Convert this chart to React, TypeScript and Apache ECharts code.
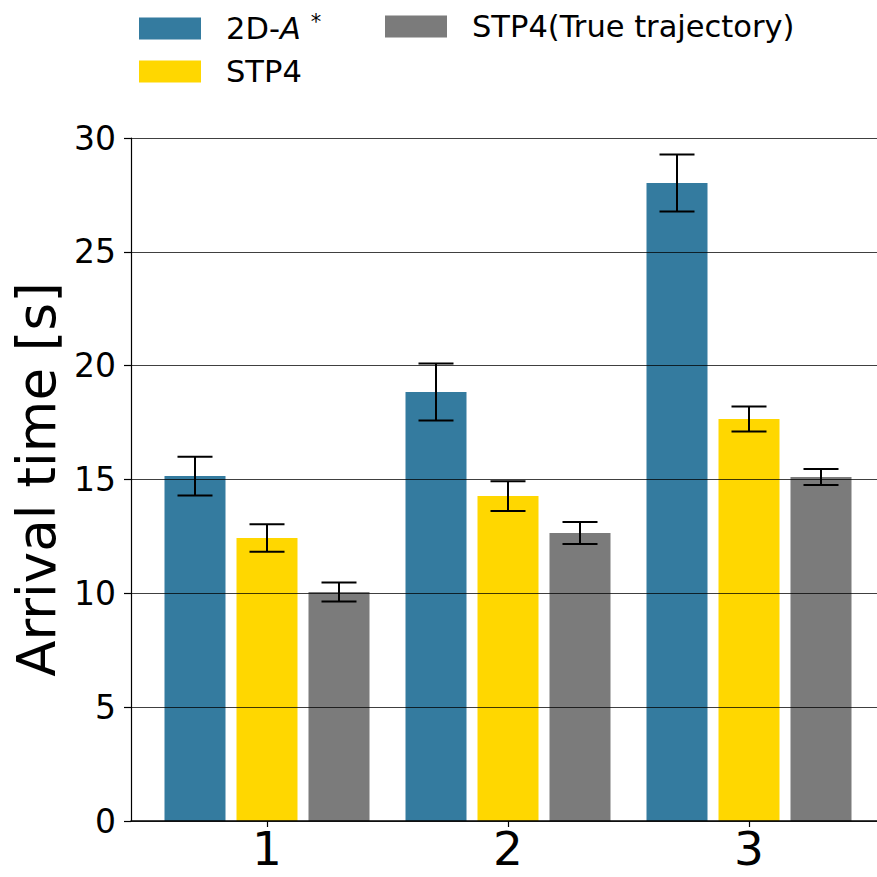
import React, { useEffect, useRef } from 'react';
import * as echarts from 'echarts';

const categories = ['1', '2', '3'];
const seriesNames = ['2D-A*', 'STP4', 'STP4(True trajectory)'];
const astarValues = [15.15, 18.84, 28.02];
const astarErrors = [0.85, 1.25, 1.25];
const stp4Values = [12.43, 14.27, 17.66];
const stp4Errors = [0.6, 0.65, 0.55];
const trueValues = [10.06, 12.65, 15.11];
const trueErrors = [0.42, 0.48, 0.35];
const yMin = 0;
const yMax = 30;
const yInterval = 5;

const colors = ['#347b9f', '#ffd700', '#7b7b7b'];
const FONT = 'DejaVu Sans';
const BAND = 241;
const X_MIN = 1 - 136 / BAND;
const X_MAX = 3 + 128 / BAND;
const BAR_W = 61 / BAND;
const OFFSETS = [-72 / BAND, 0, 72 / BAND];
const CAP = 35 / BAND;

export default function App() {
  const ref = useRef<HTMLDivElement>(null);
  useEffect(() => {
    if (!ref.current) return;
    const chart = echarts.init(ref.current, undefined, { renderer: 'svg' });
    const allValues = [astarValues, stp4Values, trueValues];
    const allErrors = [astarErrors, stp4Errors, trueErrors];

    const barSeries = seriesNames.map((name, k) => ({
      name,
      type: 'custom',
      z: 2,
      itemStyle: { color: colors[k] },
      data: categories.map((_, i) => [i + 1, allValues[k][i]]),
      renderItem: (params: any, api: any) => {
        const x = api.value(0) + OFFSETS[k];
        const v = api.value(1);
        const tl = api.coord([x - BAR_W / 2, v]);
        const br = api.coord([x + BAR_W / 2, 0]);
        return {
          type: 'rect',
          shape: { x: tl[0], y: tl[1], width: br[0] - tl[0], height: br[1] - tl[1] },
          style: { fill: colors[k] },
        };
      },
    }));

    const errData: number[][] = [];
    seriesNames.forEach((_, k) => {
      categories.forEach((__, i) => {
        errData.push([i + 1, allValues[k][i], allErrors[k][i], k]);
      });
    });

    const errSeries = {
      name: 'err',
      type: 'custom',
      z: 10,
      data: errData,
      renderItem: (params: any, api: any) => {
        const x = api.value(0) + OFFSETS[api.value(3)];
        const v = api.value(1);
        const e = api.value(2);
        const hi = api.coord([x, v + e]);
        const lo = api.coord([x, v - e]);
        const hl = api.coord([x - CAP / 2, v + e]);
        const hr = api.coord([x + CAP / 2, v + e]);
        const ll = api.coord([x - CAP / 2, v - e]);
        const lr = api.coord([x + CAP / 2, v - e]);
        const st = { stroke: '#000', lineWidth: 2 };
        return {
          type: 'group',
          children: [
            { type: 'line', shape: { x1: hi[0], y1: hi[1], x2: lo[0], y2: lo[1] }, style: st },
            { type: 'line', shape: { x1: hl[0], y1: hl[1], x2: hr[0], y2: hr[1] }, style: st },
            { type: 'line', shape: { x1: ll[0], y1: ll[1], x2: lr[0], y2: lr[1] }, style: st },
          ],
        };
      },
    };

    const legendText = {
      fontSize: 30.5,
      fontFamily: FONT,
      color: '#000',
      padding: [0, 0, 0, 20],
      rich: {
        it: { fontSize: 30.5, fontFamily: FONT, fontStyle: 'italic', color: '#000' },
        sup: { fontSize: 21, fontFamily: FONT, color: '#000', padding: [0, 0, 14, 10] },
      },
    };
    const fmt = (name: string) => (name === '2D-A*' ? '2D-{it|A}{sup|*}' : name);
    const mkLegend = (name: string, left: number, top: number) => ({
      data: [name],
      orient: 'vertical',
      left,
      top,
      padding: 0,
      itemWidth: 62,
      itemHeight: 22,
      icon: 'rect',
      selectedMode: false,
      textStyle: legendText,
      formatter: fmt,
    });

    chart.setOption({
      animation: false,
      color: colors,
      grid: { left: 131, top: 138, right: 0, height: 683, containLabel: false, outerBoundsMode: 'none' },
      legend: [
        mkLegend(seriesNames[0], 139, 11),
        mkLegend(seriesNames[1], 139, 56),
        mkLegend(seriesNames[2], 385, 11),
      ],
      xAxis: {
        type: 'value',
        min: X_MIN,
        max: X_MAX,
        z: 5,
        axisLine: { show: true, onZero: false, lineStyle: { color: '#000', width: 1.5 } },
        axisTick: { show: true, length: 6, customValues: [1, 2, 3], lineStyle: { color: '#000', width: 1.2 } },
        axisLabel: {
          customValues: [1, 2, 3],
          fontSize: 47,
          lineHeight: 46,
          fontFamily: FONT,
          color: '#000',
          margin: 4,
          formatter: (v: number) => categories[Math.round(v) - 1] ?? '',
        },
        splitLine: { show: false },
      },
      yAxis: {
        type: 'value',
        min: yMin,
        max: yMax,
        interval: yInterval,
        z: 5,
        name: 'Arrival time [s]',
        nameLocation: 'middle',
        nameRotate: 90,
        nameGap: 63,
        nameTextStyle: { fontSize: 53, fontFamily: FONT, color: '#000' },
        axisLine: { show: true, lineStyle: { color: '#000', width: 1.2 } },
        axisTick: { show: true, length: 7, lineStyle: { color: '#000', width: 1.2 } },
        axisLabel: { fontSize: 33, fontFamily: FONT, color: '#000', margin: 15 },
        splitLine: { show: true, lineStyle: { color: 'rgba(0,0,0,0.75)', width: 1.2 } },
      },
      series: [...barSeries, errSeries],
    });
    return () => chart.dispose();
  }, []);
  return (
    <div
      ref={ref}
      style={{ position: 'absolute', left: 0, top: 0, width: 877, height: 877, background: '#fff' }}
    />
  );
}
